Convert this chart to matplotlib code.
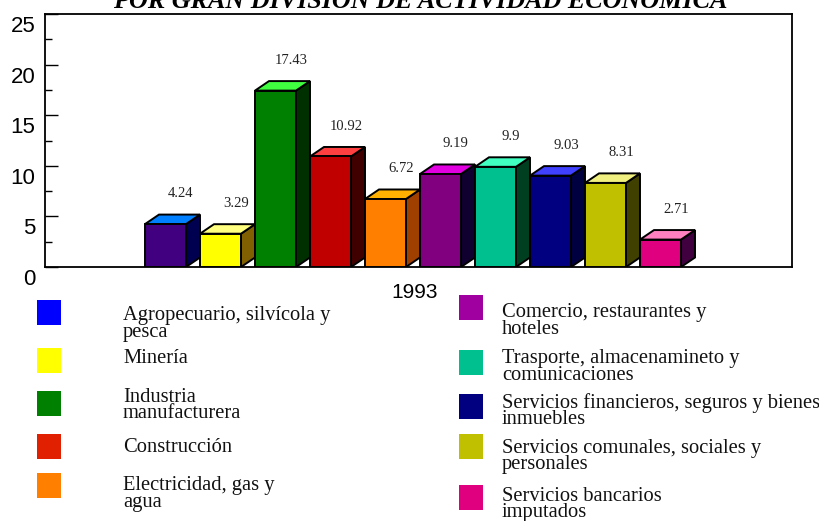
import matplotlib
matplotlib.use("Agg")
import matplotlib.pyplot as plt
from matplotlib.patches import Rectangle, Polygon
from matplotlib.transforms import Affine2D, ScaledTranslation

# datos
sectores = ["Agropecuario, silvícola y\npesca", "Minería", "Industria\nmanufacturera",
            "Construcción", "Electricidad, gas y\nagua", "Comercio, restaurantes y\nhoteles",
            "Trasporte, almacenamineto y\ncomunicaciones",
            "Servicios financieros, seguros y bienes\ninmuebles",
            "Servicios comunales, sociales y\npersonales", "Servicios bancarios\nimputados"]
valores = [4.24, 3.29, 17.43, 10.92, 6.72, 9.19, 9.9, 9.03, 8.31, 2.71]
etiquetas = ["4.24", "3.29", "17.43", "10.92", "6.72", "9.19", "9.9", "9.03", "8.31", "2.71"]
anio = "1993"
titulo = "POR GRAN DIVISION DE ACTIVIDAD ECONOMICA"

# colores: frente, tapa, lado
frente = ["#400080", "#FFFF00", "#008000", "#C00000", "#FF8000",
          "#800080", "#00C090", "#000080", "#C0C000", "#E0007F"]
tapa = ["#0080FF", "#FFFF80", "#40FF40", "#FF4040", "#FFB000",
        "#E000E0", "#40FFC0", "#4040FF", "#F0F080", "#FF80C0"]
lado = ["#000050", "#806000", "#003000", "#400000", "#A04000",
        "#100030", "#004020", "#000040", "#404000", "#400040"]
leyenda_col = ["#0000FF", "#FFFF00", "#008000", "#E02000", "#FF8000",
               "#A000A0", "#00C090", "#000080", "#C0C000", "#E0007F"]

W, H = 820, 521
fig = plt.figure(figsize=(W / 100, H / 100), dpi=100)
# transformacion en pixeles desde la esquina superior izquierda
px = Affine2D().scale(1 / 100).scale(1, -1).translate(0, H / 100) + fig.dpi_scale_trans

ax = fig.add_axes([45 / W, 1 - 267 / H, 747 / W, 253 / H])
ax.set_xlim(0, 747 / 55)
ax.set_ylim(0, 25)
for s in ax.spines.values():
    s.set_linewidth(1.3)

x0, ancho, dx, dy = 100 / 55, 41 / 55, 14 / 55, 0.94
for i, v in enumerate(valores):
    x = x0 + i
    ax.add_patch(Polygon([(x + ancho, 0), (x + ancho + dx, dy), (x + ancho + dx, v + dy), (x + ancho, v)],
                         closed=True, fc=lado[i], ec="black", lw=1.4, zorder=3))
    ax.add_patch(Polygon([(x, v), (x + dx, v + dy), (x + ancho + dx, v + dy), (x + ancho, v)],
                         closed=True, fc=tapa[i], ec="black", lw=1.4, zorder=3))
    ax.add_patch(Rectangle((x, 0), ancho, v, fc=frente[i], ec="black", lw=1.4, zorder=4))
    ax.text(x + ancho / 2 + 0.28, v + 3.0, etiquetas[i], ha="center", va="center",
            fontsize=10.5, family="Liberation Serif", color="#222222")

ax.set_xticks([])
ax.set_yticks([0, 5, 10, 15, 20, 25])
ax.set_yticks([2.5, 7.5, 12.5, 17.5, 22.5], minor=True)
ax.tick_params(axis="y", which="major", direction="in", length=9, width=1, labelleft=False)
ax.tick_params(axis="y", which="minor", direction="in", length=5, width=1)
baja = ax.get_yaxis_transform() + ScaledTranslation(0, -9 / 72, fig.dpi_scale_trans)
for t in [0, 5, 10, 15, 20, 25]:
    ax.text(-0.013, t, str(t), transform=baja, ha="right", va="center",
            fontsize=16, family="Liberation Sans")

fig.text(415, 292, anio, transform=px, ha="center", va="center", fontsize=15, family="Liberation Sans")
fig.text(420, 8, titulo, transform=px, ha="center", va="baseline", fontsize=18.8,
         family="Liberation Serif", weight="bold", style="italic")

# leyenda
cuadros = [(37, 312), (37, 360), (37, 403), (37, 446), (37, 485),
           (459, 307), (459, 362), (459, 406), (459, 446), (459, 497)]
lineas = [320, 363, 402, 452, 490, 317, 363, 408, 453, 501]
for i, nombre in enumerate(sectores):
    cx, cy = cuadros[i]
    fig.add_artist(Rectangle((cx, cy - 12.5), 24, 25, transform=px, fc=leyenda_col[i], ec="none"))
    tx = 123 if i < 5 else 502
    for k, linea in enumerate(nombre.split("\n")):
        fig.text(tx, lineas[i] + 16.5 * k, linea, transform=px, ha="left", va="baseline",
                 fontsize=14.8, family="Liberation Serif", color="#111111")

fig.savefig("out.png", dpi=100)
